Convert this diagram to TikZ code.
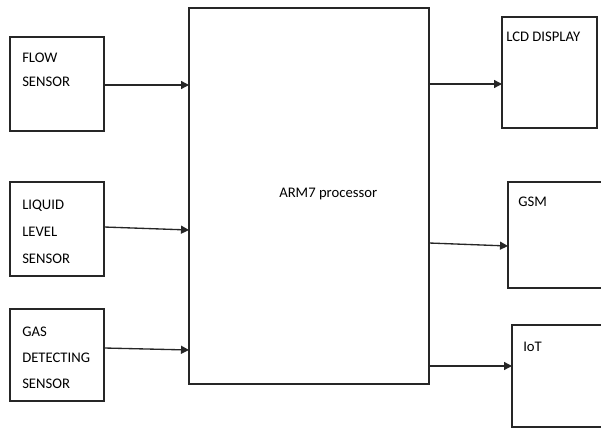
\documentclass[tikz,border=0pt]{standalone}
\usepackage{fontspec}
\setmainfont{Carlito}
\usetikzlibrary{arrows.meta,calc}

\begin{document}
\begin{tikzpicture}[x=0.75pt, y=-0.75pt,
  blk/.style={draw=black!85, line width=1pt, inner sep=0pt, outer sep=0pt},
  txt/.style={anchor=north west, inner sep=0pt, align=left,
    font={\fontsize{11}{19.5}\selectfont}},
  arr/.style={draw=black!85, line width=1pt, -{Triangle[length=6pt,width=6pt]}}]
  \useasboundingbox (0,0) rectangle (601,428);
  \clip (0,0) rectangle (601,428);

  % sensors (left)
  \node[blk, minimum width=70.5pt, minimum height=70.5pt] (flow) at (57,84) {};
  \node[blk, minimum width=70.5pt, minimum height=70.5pt] (liquid) at (57,229) {};
  \node[blk, minimum width=70.5pt, minimum height=69pt] (gas) at (57,355) {};

  % processor
  \node[blk, minimum width=180pt, minimum height=282pt] (arm) at (309,196) {};

  % outputs (right), the last two run past the page edge
  \node[blk, minimum width=71.25pt, minimum height=83.25pt] (lcd) at (549.5,72.5) {};
  \node[blk, minimum width=82.5pt, minimum height=79.5pt] (gsm) at (563,235) {};
  \node[blk, minimum width=81pt, minimum height=76.5pt] (iot) at (566,376) {};

  % texts
  \node[txt, font={\fontsize{11}{18}\selectfont}] (flowtxt) at ($(flow.north west)+(12,16)$) {FLOW\\SENSOR};
  \node[txt, font={\fontsize{11}{20}\selectfont}] (liquidtxt) at ($(liquid.north west)+(12,18)$) {LIQUID\\LEVEL\\SENSOR};
  \node[txt] (gastxt) at ($(gas.north west)+(12,18)$) {GAS\\DETECTING\\SENSOR};
  \node[txt] (armtxt) at ($(arm.north west)+(90,180)$) {ARM7 processor};
  \node[txt] (lcdtxt) at ($(lcd.north west)+(4,15)$) {LCD DISPLAY};
  \node[txt] (gsmtxt) at ($(gsm.north west)+(10,15)$) {GSM};
  \node[txt] (iottxt) at ($(iot.north west)+(11,17)$) {IoT};

  % connectors
  \draw[arr] ($(flow.east)+(0,1)$) -- ($(flow.east -| arm.west)+(0,1)$);
  \draw[arr] ($(liquid.east)+(0,-2)$) -- ($(liquid.east -| arm.west)+(0,1)$);
  \draw[arr] ($(gas.east)+(0,-7)$) -- ($(gas.east -| arm.west)+(0,-5)$);
  \draw[arr] ($(lcd.west -| arm.east)+(0,11.5)$) -- ($(lcd.west)+(0,11.5)$);
  \draw[arr] ($(gsm.west -| arm.east)+(0,8)$) -- ($(gsm.west)+(0,11)$);
  \draw[arr] ($(iot.west -| arm.east)+(0,-10)$) -- ($(iot.west)+(0,-10)$);
\end{tikzpicture}
\end{document}
